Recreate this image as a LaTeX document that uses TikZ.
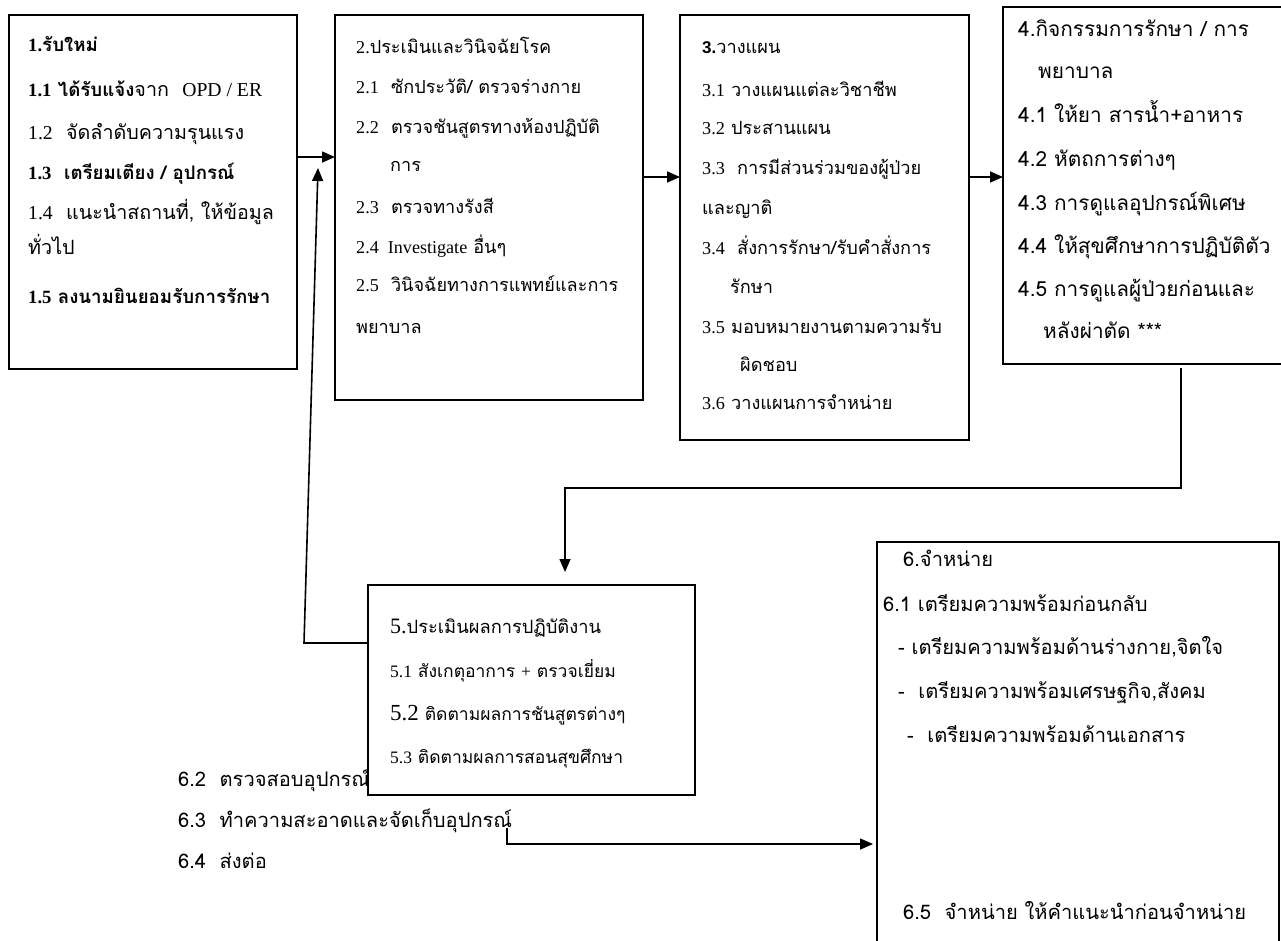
\documentclass[tikz,border=0pt]{standalone}
\usepackage{fontspec}
\usetikzlibrary{arrows.meta}
\newfontfamily\thsans[Script=Thai]{Loma}
\newfontfamily\lser{Liberation Serif}
\newfontfamily\lsans{Liberation Sans}
\newcommand\lr[1]{{\lser #1}}
\newcommand\TLine[5]{\node[#1,anchor=base west] (#2) at (#3,#4+6) {#5};}
\newcommand\fsz[1]{\fontsize{#1}{#1}\selectfont}
\tikzset{
  bx/.style={draw=black,line width=1.6pt,fill=white,inner sep=0pt,outer sep=0pt,anchor=north west},
  serA/.style={inner sep=0pt,font=\thsans\fsz{19.7}},
  serAb/.style={inner sep=0pt,font=\thsans\fsz{18.7}\bfseries},
  serB/.style={inner sep=0pt,font=\thsans\fsz{18.1}},
  serC/.style={inner sep=0pt,font=\thsans\fsz{18.2}},
  serE/.style={inner sep=0pt,font=\thsans\fsz{17.5}},
  sns/.style={inner sep=0pt,font=\thsans\fsz{20.1}},
  snsD/.style={inner sep=0pt,font=\thsans\fsz{20.8}},
  arr/.style={draw=black,line width=1.6pt,-{Triangle[length=13pt,width=11pt]}}
}
\begin{document}
\begin{tikzpicture}[x=1pt,y=-1pt]
\useasboundingbox (0,0) rectangle (1281,940);
% boxes 1-4 and 6
\node[bx,minimum width=288pt,minimum height=354pt] (b1) at (9,15) {};
\node[bx,minimum width=308pt,minimum height=385pt] (b2) at (335,15) {};
\node[bx,minimum width=289pt,minimum height=425pt] (b3) at (680,15) {};
\node[bx,minimum width=287pt,minimum height=357pt] (b4) at (1003,7) {};
\node[bx,minimum width=402pt,minimum height=410pt] (b6) at (877,542) {};
% box 1
\TLine{serAb}{t10}{28}{45}{\lr{1.}รับใหม่}
\TLine{serA}{t11}{28}{90}{{\bfseries\fsz{18.7}\lr{1.1} ได้รับแจ้ง}จาก\ \ \lr{OPD / ER}}
\TLine{serA}{t12}{28}{133}{\lr{1.2}\ \ จัดลำดับความรุนแรง}
\TLine{serAb}{t13}{28}{173}{\lr{1.3}\ \ เตรียมเตียง / อุปกรณ์}
\TLine{serA}{t14}{28}{213}{\lr{1.4}\ \ แนะนำสถานที่, ให้ข้อมูล}
\TLine{serA}{t14b}{28}{248}{ทั่วไป}
\TLine{serAb}{t15}{28}{297}{\lr{1.5} ลงนามยินยอมรับการรักษา}
% box 2
\TLine{serB}{t20}{356}{47}{\lr{2.}ประเมินและวินิจฉัยโรค}
\TLine{serB}{t21}{356}{87}{\lr{2.1}\ \ ซักประวัติ/ ตรวจร่างกาย}
\TLine{serB}{t22}{356}{127}{\lr{2.2}\ \ ตรวจชันสูตรทางห้องปฏิบัติ}
\TLine{serB}{t22b}{390}{165}{การ}
\TLine{serB}{t23}{356}{207}{\lr{2.3}\ \ ตรวจทางรังสี}
\TLine{serB}{t24}{356}{247}{\lr{2.4\ \ Investigate} อื่นๆ}
\TLine{serB}{t25}{356}{285}{\lr{2.5}\ \ วินิจฉัยทางการแพทย์และการ}
\TLine{serB}{t25b}{356}{327}{พยาบาล}
% box 3
\TLine{serC}{t30}{702}{47}{{\lsans\bfseries\fsz{17}3.}วางแผน}
\TLine{serC}{t31}{702}{90}{\lr{3.1} วางแผนแต่ละวิชาชีพ}
\TLine{serC}{t32}{702}{128}{\lr{3.2} ประสานแผน}
\TLine{serC}{t33}{702}{168}{\lr{3.3}\ \ การมีส่วนร่วมของผู้ป่วย}
\TLine{serC}{t33b}{702}{208}{และญาติ}
\TLine{serC}{t34}{702}{248}{\lr{3.4}\ \ สั่งการรักษา/รับคำสั่งการ}
\TLine{serC}{t34b}{730}{287}{รักษา}
\TLine{serC}{t35}{702}{327}{\lr{3.5} มอบหมายงานตามความรับ}
\TLine{serC}{t35b}{740}{365}{ผิดชอบ}
\TLine{serC}{t36}{702}{403}{\lr{3.6} วางแผนการจำหน่าย}
% box 4
\TLine{snsD}{t40}{1018}{30}{4.กิจกรรมการรักษา / การ}
\TLine{snsD}{t40b}{1038}{72}{พยาบาล}
\TLine{snsD}{t41}{1018}{116}{4.1 ให้ยา สารน้ำ+อาหาร}
\TLine{snsD}{t42}{1018}{160}{4.2 หัตถการต่างๆ}
\TLine{snsD}{t43}{1018}{204}{4.3 การดูแลอุปกรณ์พิเศษ}
\TLine{snsD}{t44}{1018}{247}{4.4 ให้สุขศึกษาการปฏิบัติตัว}
\TLine{snsD}{t45}{1018}{290}{4.5 การดูแลผู้ป่วยก่อนและ}
\TLine{snsD}{t45b}{1043}{332}{หลังผ่าตัด ***}
% 6.2 - 6.4
\TLine{sns}{t62}{178}{780}{6.2\ \ ตรวจสอบอุปกรณ์}
\TLine{sns}{t63}{178}{821}{6.3\ \ ทำความสะอาดและจัดเก็บอุปกรณ์}
\TLine{sns}{t64}{178}{862}{6.4\ \ ส่งต่อ}
% box 5 (drawn over 6.2)
\node[bx,minimum width=327pt,minimum height=210pt] (b5) at (368,585) {};
\TLine{serE}{t50}{390}{627}{{\lser\fsz{22}5.}{\fsz{18.3}ประเมินผลการปฏิบัติงาน}}
\TLine{serE}{t51}{390}{671}{\lr{5.1} สังเกตุอาการ \lr{+} ตรวจเยี่ยม}
\TLine{serE}{t52}{390}{714}{{\lser\fsz{23}5.2} ติดตามผลการชันสูตรต่างๆ}
\TLine{serE}{t53}{390}{757}{\lr{5.3} ติดตามผลการสอนสุขศึกษา}
% box 6
\TLine{sns}{t60}{903}{560}{6.จำหน่าย}
\TLine{sns}{t61}{883}{605}{6.1 เตรียมความพร้อมก่อนกลับ}
\TLine{sns}{t61a}{898}{648}{- เตรียมความพร้อมด้านร่างกาย,จิตใจ}
\TLine{sns}{t61b}{898}{692}{-\ \ เตรียมความพร้อมเศรษฐกิจ,สังคม}
\TLine{sns}{t61c}{907}{736}{-\ \ เตรียมความพร้อมด้านเอกสาร}
\TLine{sns}{t65}{903}{913}{6.5\ \ จำหน่าย ให้คำแนะนำก่อนจำหน่าย}
% helper coordinates
\coordinate (r1) at (0,157);
\coordinate (r2) at (0,177);
\coordinate (k1) at (1181,0);
\coordinate (k2) at (565,488);
\coordinate (k3) at (304,643);
\coordinate (k4) at (318,168);
\coordinate (k5) at (507,828);
\coordinate (k6) at (507,844);
% connectors
\draw[arr] (b1.east |- r1) -- (b2.west |- r1);
\draw[arr] (b2.east |- r2) -- (b3.west |- r2);
\draw[arr] (b3.east |- r2) -- (b4.west |- r2);
\draw[arr,shorten <=4pt,shorten >=13pt] (b4.south -| k1) -- (k1 |- k2) -- (k2) -- (b5.north -| k2);
\draw[arr] (b5.west |- k3) -- (k3) -- (k4);
\draw[arr,shorten >=4pt] (k5) -- (k6) -- (b6.west |- k6);
\end{tikzpicture}
\end{document}
